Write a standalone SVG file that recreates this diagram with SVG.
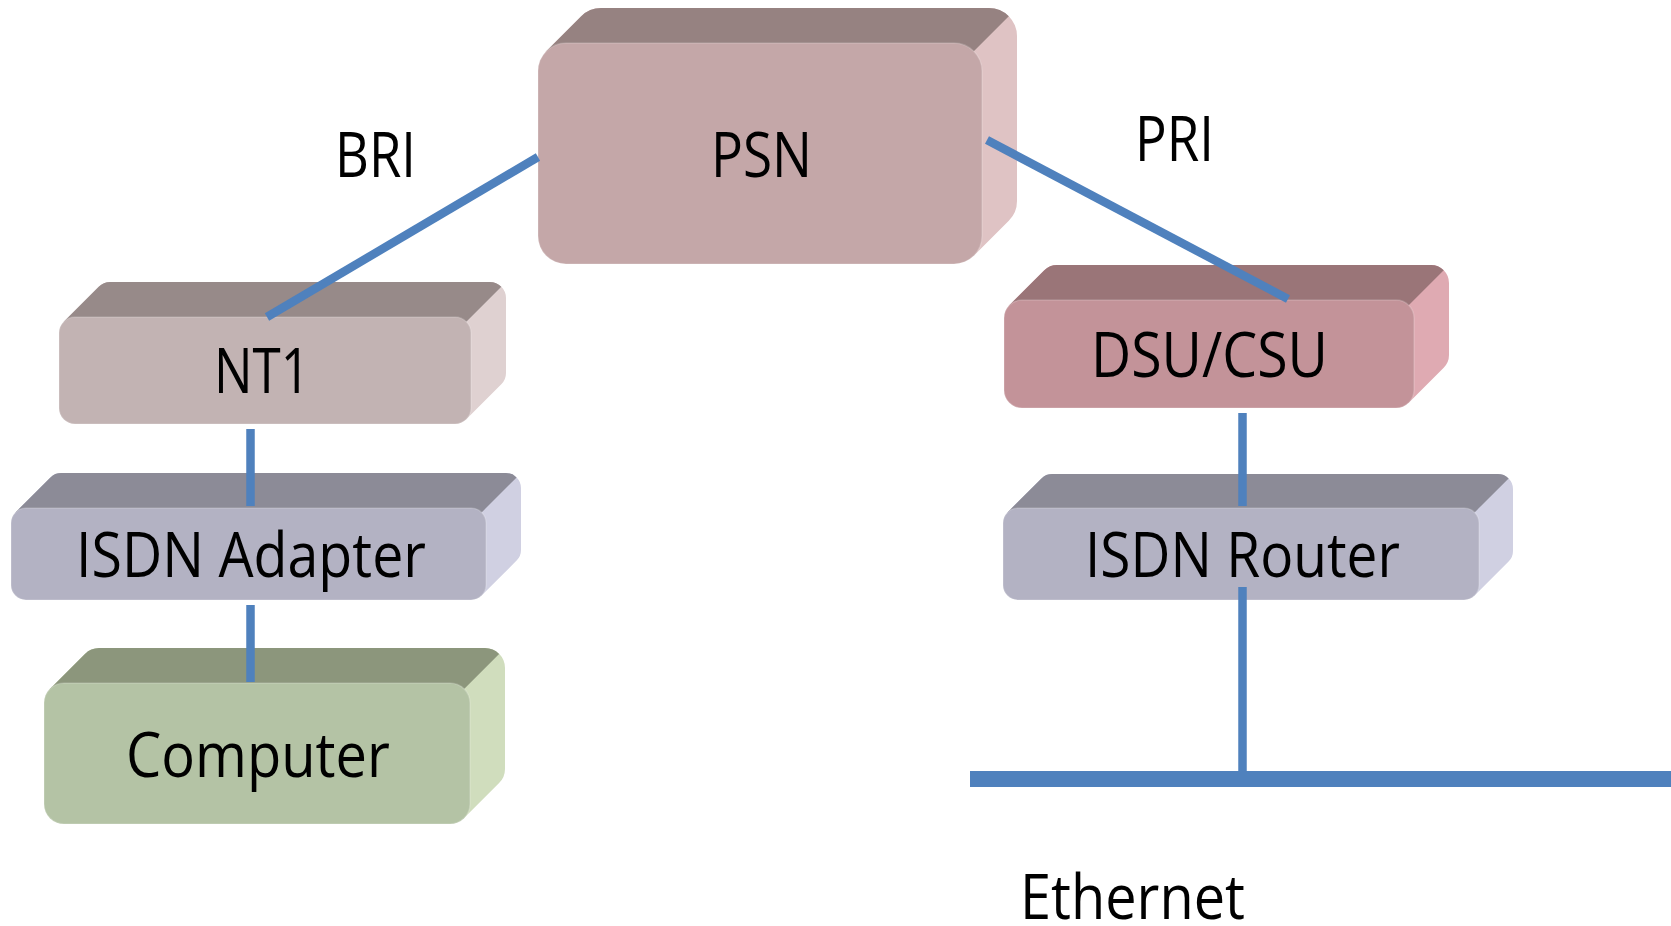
<svg xmlns="http://www.w3.org/2000/svg" width="1671" height="926" viewBox="0 0 1671 926">
<style>
.lbl{font-family:"Open Sans","Liberation Sans",sans-serif;font-size:63px;fill:#000}
.ln{stroke:#4f81bd;stroke-width:8.5;fill:none;stroke-linecap:butt}
.front{stroke:#ffffff;stroke-opacity:0.18;stroke-width:1.5}
.psn .side{fill:#dfc3c4}.psn .top{fill:#968281}.psn .front{fill:#c4a7a8}
.nt .side{fill:#dfd1d1}.nt .top{fill:#978a89}.nt .front{fill:#c2b3b3}
.isdn .side{fill:#d0d0e2}.isdn .top{fill:#8c8b97}.isdn .front{fill:#b3b2c3}
.comp .side{fill:#d0ddbd}.comp .top{fill:#8c967c}.comp .front{fill:#b4c3a5}
.dsu .side{fill:#dfaab2}.dsu .top{fill:#9a7578}.dsu .front{fill:#c39399}
</style>
<rect width="1671" height="926" fill="#ffffff"/>

<g id="psn" class="psn">
<path class="side" d="M546.2,51.2 L581.2,16.2 A28,28 0 0 1 601,8 L989,8 A28,28 0 0 1 1017,36 L1017,201 A28,28 0 0 1 1008.8,220.8 L973.8,255.8 Z"/>
<path class="top" d="M546.2,51.2 L581.2,16.2 A28,28 0 0 1 601,8 L989,8 A28,28 0 0 1 1008.8,16.2 L973.8,51.2 Z"/>
<rect class="front" x="538" y="43" width="444" height="221" rx="28"/>
<text class="lbl" x="711" y="177" textLength="101" lengthAdjust="spacingAndGlyphs">PSN</text>
</g>

<g id="nt1" class="nt">
<path class="side" d="M63.7,321.7 L98.7,286.7 A16,16 0 0 1 110,282 L490,282 A16,16 0 0 1 506,298 L506,373 A16,16 0 0 1 501.3,384.3 L466.3,419.3 Z"/>
<path class="top" d="M63.7,321.7 L98.7,286.7 A16,16 0 0 1 110,282 L490,282 A16,16 0 0 1 501.3,286.7 L466.3,321.7 Z"/>
<rect class="front" x="59" y="317" width="412" height="107" rx="16"/>
<text class="lbl" x="214" y="393" textLength="96" lengthAdjust="spacingAndGlyphs">NT1</text>
</g>

<g id="isdn-adapter" class="isdn">
<path class="side" d="M15.4,512.4 L50.4,477.4 A15,15 0 0 1 61,473 L506,473 A15,15 0 0 1 521,488 L521,550 A15,15 0 0 1 516.6,560.6 L481.6,595.6 Z"/>
<path class="top" d="M15.4,512.4 L50.4,477.4 A15,15 0 0 1 61,473 L506,473 A15,15 0 0 1 516.6,477.4 L481.6,512.4 Z"/>
<rect class="front" x="11" y="508" width="475" height="92" rx="15"/>
<text class="lbl" x="76" y="577" textLength="350" lengthAdjust="spacingAndGlyphs">ISDN Adapter</text>
</g>

<g id="computer" class="comp">
<path class="side" d="M49.9,688.9 L84.9,653.9 A20,20 0 0 1 99,648 L485,648 A20,20 0 0 1 505,668 L505,769 A20,20 0 0 1 499.1,783.1 L464.1,818.1 Z"/>
<path class="top" d="M49.9,688.9 L84.9,653.9 A20,20 0 0 1 99,648 L485,648 A20,20 0 0 1 499.1,653.9 L464.1,688.9 Z"/>
<rect class="front" x="44" y="683" width="426" height="141" rx="20"/>
<text class="lbl" x="126" y="777" textLength="264" lengthAdjust="spacingAndGlyphs">Computer</text>
</g>

<g id="dsu-csu" class="dsu">
<path class="side" d="M1009.3,305.3 L1044.3,270.3 A18,18 0 0 1 1057,265 L1431,265 A18,18 0 0 1 1449,283 L1449,355 A18,18 0 0 1 1443.7,367.7 L1408.7,402.7 Z"/>
<path class="top" d="M1009.3,305.3 L1044.3,270.3 A18,18 0 0 1 1057,265 L1431,265 A18,18 0 0 1 1443.7,270.3 L1408.7,305.3 Z"/>
<rect class="front" x="1004" y="300" width="410" height="108" rx="18"/>
<text class="lbl" x="1091" y="377" textLength="237" lengthAdjust="spacingAndGlyphs">DSU/CSU</text>
</g>

<g id="isdn-router" class="isdn">
<path class="side" d="M1007.4,512.4 L1041.4,478.4 A15,15 0 0 1 1052,474 L1498,474 A15,15 0 0 1 1513,489 L1513,551 A15,15 0 0 1 1508.6,561.6 L1474.6,595.6 Z"/>
<path class="top" d="M1007.4,512.4 L1041.4,478.4 A15,15 0 0 1 1052,474 L1498,474 A15,15 0 0 1 1508.6,478.4 L1474.6,512.4 Z"/>
<rect class="front" x="1003" y="508" width="476" height="92" rx="15"/>
<text class="lbl" x="1085" y="577" textLength="315" lengthAdjust="spacingAndGlyphs">ISDN Router</text>
</g>

<g id="connectors">
<line class="ln" x1="538" y1="157" x2="267" y2="317"/>
<line class="ln" x1="987" y1="140" x2="1288" y2="299"/>
<line class="ln" x1="250.5" y1="429" x2="250.5" y2="506"/>
<line class="ln" x1="250.5" y1="605" x2="250.5" y2="682"/>
<line class="ln" x1="1242.5" y1="413" x2="1242.5" y2="506"/>
<line class="ln" x1="1242.5" y1="587" x2="1242.5" y2="772"/>
<line class="ln" x1="970" y1="779" x2="1671" y2="779" style="stroke-width:16"/>
</g>

<g id="labels">
<text class="lbl" x="335" y="177" textLength="81" lengthAdjust="spacingAndGlyphs">BRI</text>
<text class="lbl" x="1135" y="161" textLength="79" lengthAdjust="spacingAndGlyphs">PRI</text>
<text class="lbl" x="1020" y="919" textLength="225" lengthAdjust="spacingAndGlyphs">Ethernet</text>
</g>
</svg>
